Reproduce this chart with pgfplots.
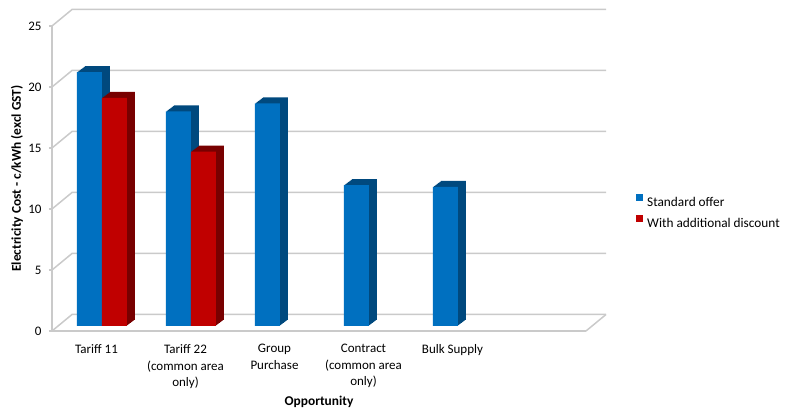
\documentclass[border=0pt]{standalone}
\usepackage{fontspec}
\setmainfont{Carlito}
\usepackage{pgfplots}
\usepackage{pgfplotstable}
\pgfplotsset{compat=1.18}
\definecolor{blueF}{HTML}{0070C0}
\definecolor{blueS}{HTML}{00497E}
\definecolor{redF}{HTML}{C00000}
\definecolor{redS}{HTML}{780000}
\definecolor{gridc}{HTML}{CACACA}

\pgfplotstableread{
x std disc
0 20.8 18.7
1 17.6 14.3
2 18.25 nan
3 11.55 nan
4 11.4 nan
}\data

\begin{document}
\begin{tikzpicture}
\useasboundingbox (-52pt,-78pt) rectangle (733pt,331pt);
\begin{axis}[
  at={(0pt,0pt)}, anchor=south west,
  scale only axis, width=534pt, height=305pt,
  xmin=-0.5, xmax=5.5, ymin=0, ymax=25,
  axis lines*=left,
  axis line style={draw=gridc, line width=1.5pt},
  clip=false,
  ytick={0,5,...,25},
  xtick={0,...,4},
  xticklabels={Tariff 11,{Tariff 22\\(common area\\only)},{Group\\Purchase},{Contract\\(common area\\only)},Bulk Supply},
  xtick style={draw=none},
  ytick style={draw=gridc, line width=1.5pt},
  major tick length=3pt, tick align=outside,
  /pgf/number format/assume math mode=true,
  tick label style={font=\fontsize{13}{16.5}\selectfont},
  xticklabel style={align=center, anchor=north, yshift=-7pt},
  yticklabel style={xshift=-4pt},
  ylabel={Electricity Cost - c/kWh (excl GST)},
  ylabel style={at={(axis description cs:-0.0655,0.5)}, anchor=center, font=\bfseries\fontsize{13.4}{15}\selectfont},
  xlabel={Opportunity},
  xlabel style={at={(axis description cs:0.5,0)}, anchor=center, yshift=-71pt, font=\bfseries\fontsize{13.4}{15}\selectfont},
  legend style={at={(axis description cs:1.0936,0.388)}, anchor=west, draw=none, fill=none, inner sep=0pt, row sep=5pt, font=\fontsize{13.3}{16}\selectfont,
    /tikz/every odd column/.append style={column sep=2pt}},
  legend cell align=left,
]
\pgfplotsinvokeforeach{0,5,10,15,20,25}{
  \draw[gridc, line width=1.5pt] (axis cs:-0.5,#1) -- ++(20pt,16.5pt) -- ([shift={(20pt,16.5pt)}]axis cs:5.5,#1);
}
\draw[gridc, line width=1.5pt] (axis cs:5.5,0) -- ++(20pt,16.5pt);

\pgfplotsinvokeforeach{1,...,8}{
  \addplot[ybar, bar width=25pt, bar shift=-12.5pt, fill=blueS, draw=none, forget plot,
    xshift=5.4pt+#1pt, yshift=5pt+0.75*#1pt] table[x=x,y=std]{\data};
}
\addplot[ybar, bar width=25pt, bar shift=-12.5pt, fill=blueF, draw=none,
  xshift=5.4pt, yshift=5pt,
  legend image code/.code={\fill[blueF] (0pt,-3.5pt) rectangle (7pt,3.5pt);}] table[x=x,y=std]{\data};
\addlegendentry{Standard offer}

\pgfplotsinvokeforeach{1,...,8}{
  \addplot[ybar, bar width=25pt, bar shift=12.5pt, fill=redS, draw=none, forget plot,
    xshift=5.4pt+#1pt, yshift=5pt+0.75*#1pt] table[x=x,y=disc]{\data};
}
\addplot[ybar, bar width=25pt, bar shift=12.5pt, fill=redF, draw=none,
  xshift=5.4pt, yshift=5pt,
  legend image code/.code={\fill[redF] (0pt,-3.5pt) rectangle (7pt,3.5pt);}] table[x=x,y=disc]{\data};
\addlegendentry{With additional discount}
\end{axis}
\end{tikzpicture}
\end{document}
